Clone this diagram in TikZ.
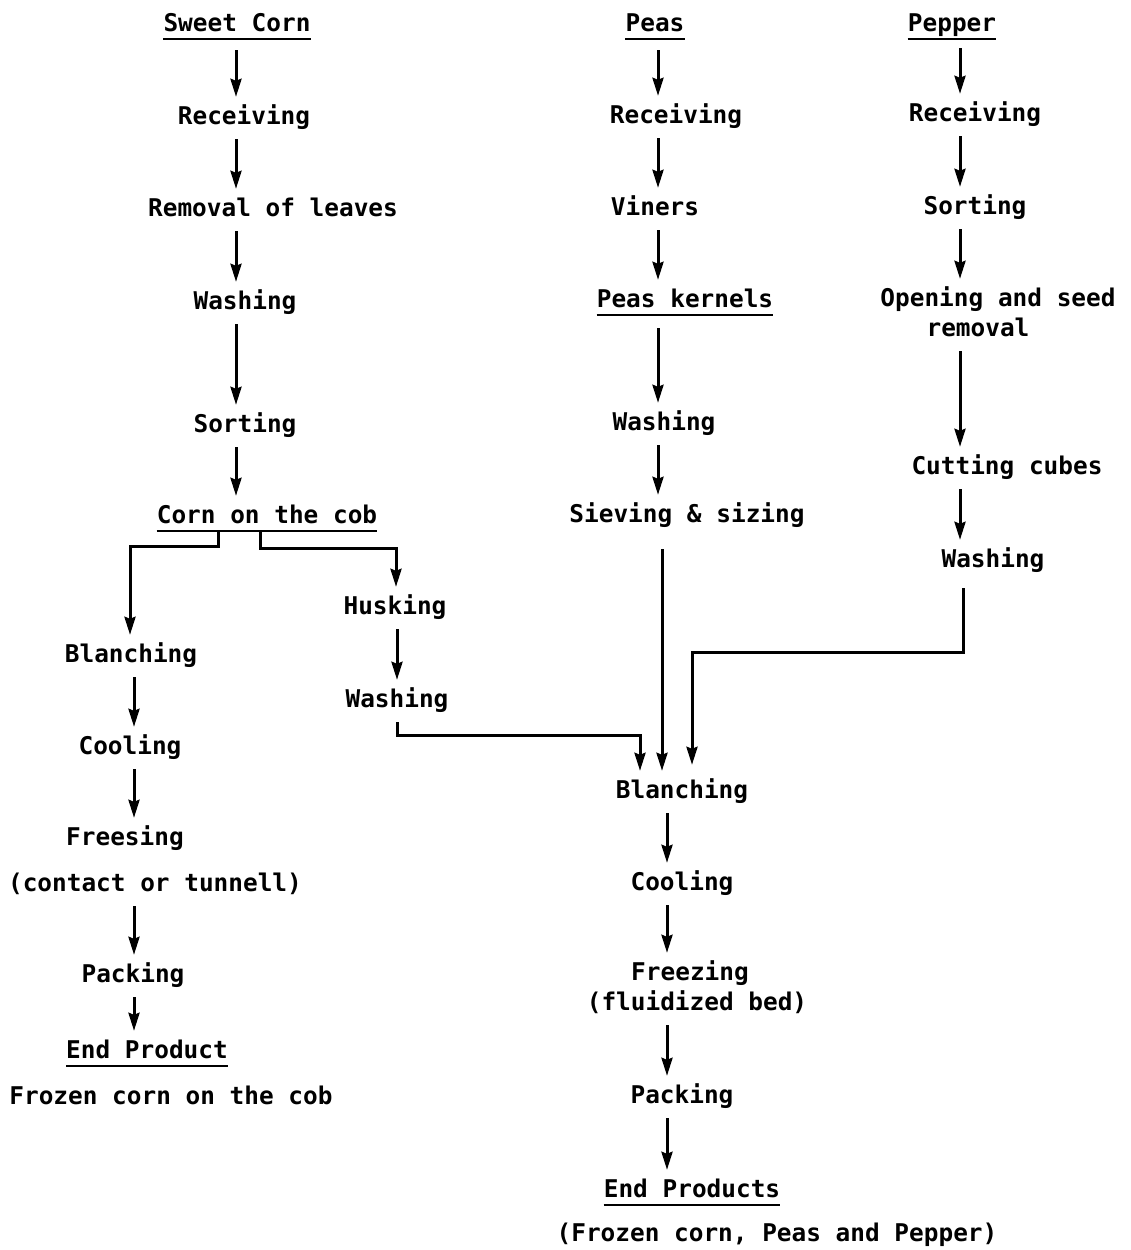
\documentclass[tikz,border=0pt]{standalone}
\usepackage{fontspec}
\setmonofont{DejaVu Sans Mono}
\usetikzlibrary{arrows.meta}
\begin{document}
\begin{tikzpicture}[x=1pt,y=-1pt,
  lbl/.style={font=\ttfamily\bfseries\fontsize{24.4}{28}\selectfont, inner xsep=0pt, inner ysep=10pt, text height=17pt, text depth=5pt, anchor=center, yshift=-3pt},
  arr/.style={line width=3pt, -{Stealth[length=18pt,width=11pt,inset=2pt]}},
  ul/.style={line width=2.4pt}]
\useasboundingbox (0,0) rectangle (1130,1250);
% ---------- Sweet corn column
\node[lbl] (sc) at (237,22) {Sweet Corn};
\node[lbl] (rL1) at (244,115) {Receiving};
\node[lbl] (rem) at (273,207) {Removal of leaves};
\node[lbl] (waL1) at (245,300) {Washing};
\node[lbl] (soL) at (245,423) {Sorting};
\node[lbl] (cob) at (267,514) {Corn on the cob};
\node[lbl] (hus) at (395,605) {Husking};
\node[lbl] (waL2) at (397,698) {Washing};
\node[lbl] (blL) at (131,653) {Blanching};
\node[lbl] (coL) at (130,745) {Cooling};
\node[lbl] (frL) at (125,836) {Freesing};
\node[lbl] (frL2) at (155,882) {(contact or tunnell)};
\node[lbl] (paL) at (133,973) {Packing};
\node[lbl] (epL) at (147,1049) {End Product};
\node[lbl] (fz) at (171,1095) {Frozen corn on the cob};
% ---------- Peas column
\node[lbl] (peas) at (655,22) {Peas};
\node[lbl] (rM) at (676,114) {Receiving};
\node[lbl] (vin) at (655,206) {Viners};
\node[lbl] (pk) at (685,298) {Peas kernels};
\node[lbl] (waM) at (664,421) {Washing};
\node[lbl] (sie) at (687,513) {Sieving \& sizing};
\node[lbl] (blR) at (682,789) {Blanching};
\node[lbl] (coR) at (682,881) {Cooling};
\node[lbl] (frR) at (690,971) {Freezing};
\node[lbl] (frR2) at (697,1001) {(fluidized bed)};
\node[lbl] (paR) at (682,1094) {Packing};
\node[lbl] (epR) at (692,1188) {End Products};
\node[lbl] (fin) at (777,1232) {(Frozen corn, Peas and Pepper)};
% ---------- Pepper column
\node[lbl] (pep) at (952,22) {Pepper};
\node[lbl] (rR) at (975,112) {Receiving};
\node[lbl] (soR) at (975,205) {Sorting};
\node[lbl] (op1) at (998,297) {Opening and seed};
\node[lbl] (op2) at (978,327) {removal};
\node[lbl] (cut) at (1007,465) {Cutting cubes};
\node[lbl] (waR) at (993,558) {Washing};
% ---------- underlines
\foreach \n in {sc,cob,epL,peas,pk,epR,pep}
  \draw[ul] ([yshift=-8pt]\n.base west) -- ([yshift=-8pt]\n.base east);
% ---------- column x coordinates and bends
\coordinate (xL) at (236,0);
\coordinate (xLL) at (134,0);
\coordinate (xH) at (397,0);
\coordinate (xM) at (658,0);
\coordinate (xMM) at (667,0);
\coordinate (xR) at (960,0);
\coordinate (bA) at (130,546);
\coordinate (bB) at (396,548);
\coordinate (bC) at (640,735);
\coordinate (bD) at (692,652);
\coordinate (sA) at (218,0);
\coordinate (sB) at (260,0);
\coordinate (xS) at (662,0);
\coordinate (xW) at (963,0);
% ---------- sweet corn arrows
\draw[arr] ([yshift=-4pt]sc.south -| xL) -- (rL1.north -| xL);
\draw[arr] (rL1.south -| xL) -- (rem.north -| xL);
\draw[arr] (rem.south -| xL) -- (waL1.north -| xL);
\draw[arr] (waL1.south -| xL) -- (soL.north -| xL);
\draw[arr] (soL.south -| xL) -- (cob.north -| xL);
\draw[arr] ([yshift=-8pt]cob.base -| sA) |- (bA) -- (blL.north -| bA);
\draw[arr] ([yshift=-8pt]cob.base -| sB) |- (bB) -- (hus.north -| bB);
\draw[arr] (hus.south -| xH) -- (waL2.north -| xH);
\draw[arr] (waL2.south -| xH) |- (bC) -- (blR.north -| bC);
\draw[arr] (blL.south -| xLL) -- (coL.north -| xLL);
\draw[arr] (coL.south -| xLL) -- (frL.north -| xLL);
\draw[arr] (frL2.south -| xLL) -- (paL.north -| xLL);
\draw[arr] (paL.south -| xLL) -- (epL.north -| xLL);
% ---------- peas arrows
\draw[arr] ([yshift=-4pt]peas.south -| xM) -- (rM.north -| xM);
\draw[arr] (rM.south -| xM) -- (vin.north -| xM);
\draw[arr] (vin.south -| xM) -- (pk.north -| xM);
\draw[arr] ([yshift=-6pt]pk.south -| xM) -- (waM.north -| xM);
\draw[arr] (waM.south -| xM) -- (sie.north -| xM);
\draw[arr] ([yshift=-12pt]sie.south -| xS) -- (blR.north -| xS);
\draw[arr] (blR.south -| xMM) -- (coR.north -| xMM);
\draw[arr] (coR.south -| xMM) -- (frR.north -| xMM);
\draw[arr] (frR2.south -| xMM) -- (paR.north -| xMM);
\draw[arr] (paR.south -| xMM) -- (epR.north -| xMM);
% ---------- pepper arrows
\draw[arr] ([yshift=-2pt]pep.south -| xR) -- (rR.north -| xR);
\draw[arr] (rR.south -| xR) -- (soR.north -| xR);
\draw[arr] (soR.south -| xR) -- (op1.north -| xR);
\draw[arr] (op2.south -| xR) -- (cut.north -| xR);
\draw[arr] (cut.south -| xR) -- (waR.north -| xR);
\draw[arr] ([yshift=-6pt]waR.south -| xW) |- (bD) -- ([yshift=6pt]blR.north -| bD);
\end{tikzpicture}
\end{document}
